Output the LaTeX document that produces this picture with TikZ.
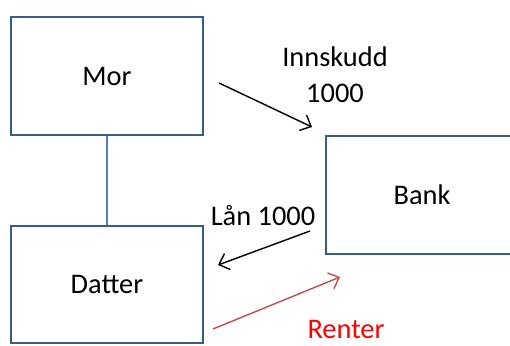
\documentclass[tikz,border=0pt]{standalone}
\usepackage{fontspec}
\setmainfont{Carlito}
\usetikzlibrary{arrows.meta}
\definecolor{boxblue}{HTML}{385D8A}
\definecolor{linkblue}{HTML}{4F81BD}
\definecolor{arrred}{HTML}{C0504D}
\definecolor{txtred}{HTML}{FF0000}
\tikzset{
  box/.style={draw=boxblue, line width=1.8bp, fill=white, minimum width=192bp, minimum height=118bp, inner sep=0pt, font=\fontsize{28.5}{34}\selectfont},
  lbl/.style={anchor=base, inner sep=0pt, font=\fontsize{28.5}{34}\selectfont},
  flow/.style={line width=1.4bp, -{Straight Barb[length=9bp, width=17bp, line width=1.4bp]}},
}
\begin{document}
\begin{tikzpicture}[x=1bp, y=-1bp]
\useasboundingbox (0,0) rectangle (510,345);
\clip (0,0) rectangle (510,345);
\fill[white] (0,0) rectangle (510,345);
\node[box] (mor) at (107,76) {Mor};
\node[box, minimum height=117bp] (datter) at (107,284.5) {Datter};
\node[box] (bank) at (422,195) {Bank};
\draw[linkblue, line width=1.5bp] (mor.south) -- (datter.north);
\coordinate (i1) at (219,83);
\coordinate (i2) at (312,127);
\coordinate (l1) at (310,231);
\coordinate (l2) at (218,265);
\coordinate (r1) at (213,329);
\coordinate (r2) at (340,277);
\draw[flow] (i1) -- (i2);
\draw[flow] (l1) -- (l2);
\draw[flow, arrred] (r1) -- (r2);
\node[lbl] (inn) at (335,66) {Innskudd};
\node[lbl] (inn2) at (335,102) {1000};
\node[lbl] (laan) at (263,225) {Lån 1000};
\node[lbl, text=txtred] (renter) at (346,338) {Renter};
\end{tikzpicture}
\end{document}
